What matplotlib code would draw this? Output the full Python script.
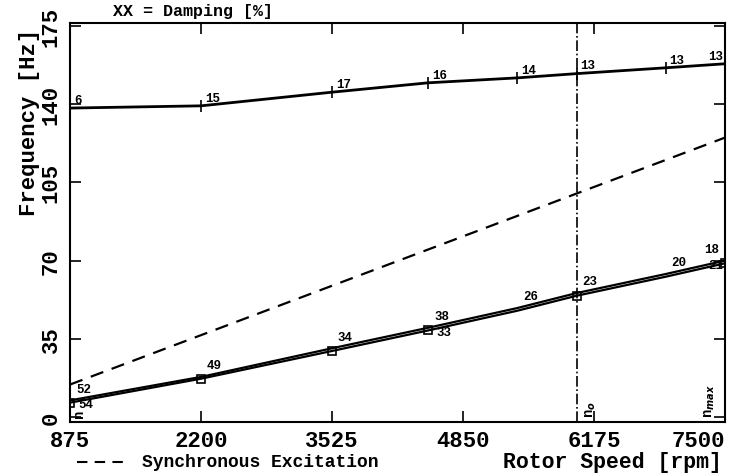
import numpy as np
import matplotlib
matplotlib.use("Agg")
import matplotlib.pyplot as plt
from matplotlib.lines import Line2D

# Rotor speeds where modes were computed
rpm = [875, 2200, 3525, 4500, 5400, 6000, 6900, 7500]

# Upper mode frequencies [Hz] and damping [%]
f_top = [138.2, 139.2, 145.3, 149.5, 151.7, 153.6, 156.2, 158.0]
d_top = ["6", "15", "17", "16", "14", "13", "13", "13"]

# Lower pair of modes (nearly coincident)
f_low1 = [7.5, 18.0, 30.8, 40.0, 48.8, 55.5, 64.0, 70.0]
f_low2 = [6.5, 17.2, 29.6, 38.8, 47.6, 54.3, 62.8, 68.8]
d_low1 = ["52", "49", "34", "38", "26", "23", "20", "18"]
d_low2 = ["54", "", "", "33", "", "", "", "21"]

# Synchronous excitation
sync_rpm = [875, 7500]
sync_hz = [875 / 60, 7500 / 60]

n_op = 6000
xticks = [875, 2200, 3525, 4850, 6175, 7500]
yticks = [0, 35, 70, 105, 140, 175]

font = "Liberation Mono"
plt.rcParams['font.family'] = [font, 'DejaVu Sans']
plt.rcParams['font.weight'] = 'bold'

fig = plt.figure(figsize=(7.29, 4.77), dpi=100)
ax = fig.add_axes([0.096, 0.113, 0.8985, 0.837])

ax.plot(rpm, f_top, color="black", lw=2.0, marker="|", ms=8, mew=1.2)
ax.plot(rpm, f_low1, color="black", lw=1.6)
ax.plot(rpm, f_low2, color="black", lw=1.6)
ax.plot([rpm[i] for i in (0, 1, 2, 3, 5, 7)], [f_low2[i] for i in (0, 1, 2, 3, 5, 7)],
        ls="none", marker="s", ms=6, mfc="none", mec="black", mew=1.2)
ax.plot(sync_rpm, sync_hz, color="black", lw=1.6, ls=(0, (6, 4)))
ax.axvline(n_op, color="black", lw=1.2, ls="-.")

for i, (x, y, t) in enumerate(zip(rpm, f_top, d_top)):
    if i == len(rpm) - 1:
        ax.text(x - 20, y + 1, t, fontsize=9, ha="right", va="bottom")
    else:
        ax.text(x + 40, y + 1, t, fontsize=9, ha="left", va="bottom")
for x, y, t in zip(rpm, f_low1, d_low1):
    xx = min(x + 60, 7290)
    ax.text(xx, y + 2.5, t, fontsize=9, ha="left", va="bottom")
for x, y, t in zip(rpm, f_low2, d_low2):
    if t:
        xx = min(x + 80, 7330)
        ax.text(xx, y + 2.0, t, fontsize=9, ha="left", va="top")

# speed markers
ax.text(900, 0, "n", rotation=90, fontsize=10, ha="left", va="bottom")
ax.text(n_op + 70, 0, "n$_o$", rotation=90, fontsize=10, ha="left", va="bottom")
ax.text(7270, 0, "n$_{max}$", rotation=90, fontsize=10, ha="left", va="bottom")

ax.set_xlim(875, 7500)
ax.set_ylim(-2.2, 176.3)
ax.set_xticks(xticks)
ax.set_yticks(yticks)
ax.set_xticklabels([str(v) for v in xticks], fontsize=16, fontweight="bold")
ax.get_xticklabels()[-1].set_horizontalalignment("right")
ax.set_yticklabels([str(v) for v in yticks], fontsize=16, fontweight="bold",
                   rotation=90, va="center")
ax.tick_params(direction="in", length=8, width=1.2, top=True, right=True, pad=6)
for s in ax.spines.values():
    s.set_linewidth(1.5)

fig.text(30 / 729, 1 - 122 / 477, "Frequency [Hz]", fontsize=16, fontweight="bold",
         rotation=90, ha="center", va="center")
fig.text(0.99, 0.03, "Rotor Speed [rpm]", fontsize=15.5, fontweight="bold",
         ha="right", va="center")
fig.add_artist(Line2D([77 / 729, 127 / 729], [0.03, 0.03], color="black", lw=1.5,
                      ls=(0, (5, 3.5)), transform=fig.transFigure))
fig.text(142 / 729, 0.03, "Synchronous Excitation", fontsize=13, fontweight="bold",
         ha="left", va="center")
fig.text(0.155, 0.975, "XX = Damping [%]", fontsize=12, fontweight="bold",
         ha="left", va="center")

fig.savefig("out.png", dpi=100)
